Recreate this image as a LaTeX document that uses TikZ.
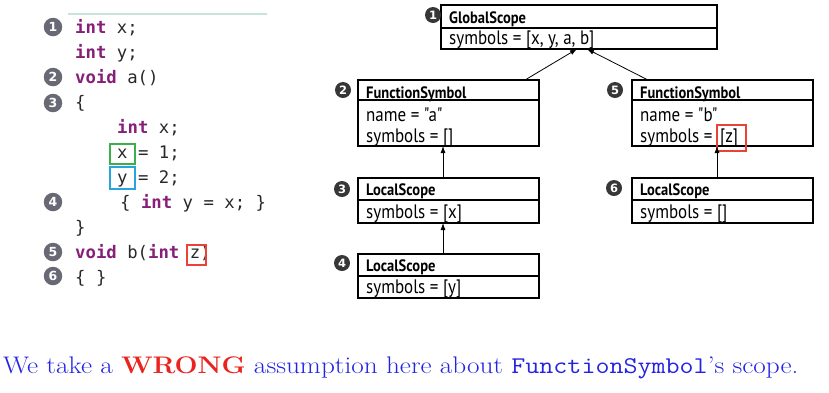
\documentclass[tikz,border=0pt]{standalone}
\usepackage{fontspec}
\usetikzlibrary{arrows.meta,calc}
\newfontfamily\codefont{DejaVu Sans Mono}
\newfontfamily\boxfont{PT Sans}[FakeStretch=0.87]
\newfontfamily\hdrfont{PT Sans}[FakeStretch=0.88]
\newfontfamily\numfont{DejaVu Sans}
\definecolor{kw}{RGB}{135,30,120}
\definecolor{codetxt}{RGB}{40,40,40}
\definecolor{cgray}{RGB}{105,105,118}
\definecolor{dgray}{RGB}{55,55,55}
\definecolor{tealline}{RGB}{200,226,220}
\definecolor{gbox}{RGB}{60,175,75}
\definecolor{bbox}{RGB}{40,165,225}
\definecolor{rbox}{RGB}{235,65,55}
\definecolor{txtblue}{RGB}{35,35,225}
\definecolor{txtred}{RGB}{235,35,30}
\newcommand\kwfmt[1]{\textcolor{kw}{\bfseries #1}}
\begin{document}
\begin{tikzpicture}[x=1pt,y=-1pt,
  code/.style={anchor=base west, inner sep=0, font=\codefont\fontsize{17.3}{20}\selectfont, text=codetxt},
  cnum/.style={circle, fill=cgray, text=white, minimum size=18.5pt, inner sep=0, font=\numfont\bfseries\fontsize{12.5}{12.5}\selectfont},
  dnum/.style={circle, fill=dgray, text=white, minimum size=16pt, inner sep=0, font=\numfont\bfseries\fontsize{11.5}{11.5}\selectfont},
  umlbox/.style={draw, line width=1.5pt, anchor=north west, inner sep=0, outer sep=0},
  divline/.style={line width=1.5pt},
  hdr/.style={anchor=base west, inner sep=0, font=\hdrfont\bfseries\fontsize{16.5}{18}\selectfont},
  fld/.style={anchor=base west, inner sep=0, font=\boxfont\fontsize{19.5}{22}\selectfont},
  arr/.style={-{Latex[length=7pt,width=5pt]}, line width=0.8pt},
  markbox/.style={draw, line width=1.3pt, inner sep=0, fill=none}
]
\useasboundingbox (0,0) rectangle (829,392);

% ---------- code listing ----------
\draw[tealline, line width=1.5pt] (68,14) -- (267,14);
\node[cnum] (c1) at (53,27) {1};
\node[cnum] (c2) at (53,77) {2};
\node[cnum] (c3) at (53,103) {3};
\node[cnum] (c4) at (53,202) {4};
\node[cnum] (c5) at (53,252) {5};
\node[cnum] (c6) at (53,276) {6};

\node[code] (k1) at (75,33) {\kwfmt{int} x;};
\node[code] (k2) at (75,58) {\kwfmt{int} y;};
\node[code] (k3) at (75,83) {\kwfmt{void} a()};
\node[code] (k4) at (75,108) {\{};
\node[code] (k5) at (117,133) {\kwfmt{int} x;};
\node[code] (k6) at (117,158) {x = 1;};
\node[code] (k7) at (117,183) {y = 2;};
\node[code] (k8) at (120,208) {\{ \kwfmt{int} y = x; \}};
\node[code] (k9) at (75,233) {\}};
\node[code] (k10) at (75,258) {\kwfmt{void} b(\kwfmt{int} z)};
\node[code] (k11) at (75,283) {\{ \}};

\node[markbox, draw=gbox, minimum width=25pt, minimum height=20pt] (bx) at (122.5,154) {};
\node[markbox, draw=bbox, minimum width=25pt, minimum height=22pt] (by) at (122.5,178) {};
\node[markbox, draw=rbox, minimum width=19pt, minimum height=20pt] (bz) at (196.5,255) {};

% ---------- scope diagram ----------
% GlobalScope
\node[umlbox, minimum width=276pt, minimum height=44pt] (gs) at (441,5) {};
\draw[divline] ([yshift=-23pt]gs.north west) -- ([yshift=-23pt]gs.north east);
\node[hdr] (gsh) at ([shift={(8pt,-18.5pt)}]gs.north west) {GlobalScope};
\node[fld] (gsf) at ([shift={(8pt,-39.5pt)}]gs.north west) {symbols = [x, y, a, b]};

% FunctionSymbol a
\node[umlbox, minimum width=181pt, minimum height=66pt] (fa) at (358,80) {};
\draw[divline] ([yshift=-20pt]fa.north west) -- ([yshift=-20pt]fa.north east);
\node[hdr] (fah) at ([shift={(8pt,-18pt)}]fa.north west) {FunctionSymbol};
\node[fld] (fan) at ([shift={(8pt,-41.5pt)}]fa.north west) {name = "a"};
\node[fld] (fas) at ([shift={(8pt,-62.5pt)}]fa.north west) {symbols = []};

% FunctionSymbol b
\node[umlbox, minimum width=181pt, minimum height=66pt] (fb) at (632,80) {};
\draw[divline] ([yshift=-20pt]fb.north west) -- ([yshift=-20pt]fb.north east);
\node[hdr] (fbh) at ([shift={(8pt,-18pt)}]fb.north west) {FunctionSymbol};
\node[fld] (fbn) at ([shift={(8pt,-41.5pt)}]fb.north west) {name = "b"};
\node[fld] (fbs) at ([shift={(8pt,-62.5pt)}]fb.north west) {symbols =};
\node[fld] (fbz) at ([shift={(88pt,-62.5pt)}]fb.north west) {[z]};
\node[markbox, draw=rbox, minimum width=29pt, minimum height=26pt] (zb) at (731.5,138) {};

% LocalScope 3
\node[umlbox, minimum width=181pt, minimum height=45pt] (l3) at (358,178) {};
\draw[divline] ([yshift=-22pt]l3.north west) -- ([yshift=-22pt]l3.north east);
\node[hdr] (l3h) at ([shift={(8pt,-17.5pt)}]l3.north west) {LocalScope};
\node[fld] (l3s) at ([shift={(8pt,-40pt)}]l3.north west) {symbols = [x]};

% LocalScope 4
\node[umlbox, minimum width=181pt, minimum height=44pt] (l4) at (358,254) {};
\draw[divline] ([yshift=-22pt]l4.north west) -- ([yshift=-22pt]l4.north east);
\node[hdr] (l4h) at ([shift={(8pt,-17.5pt)}]l4.north west) {LocalScope};
\node[fld] (l4s) at ([shift={(8pt,-39.5pt)}]l4.north west) {symbols = [y]};

% LocalScope 6
\node[umlbox, minimum width=181pt, minimum height=45pt] (l6) at (632,178) {};
\draw[divline] ([yshift=-22pt]l6.north west) -- ([yshift=-22pt]l6.north east);
\node[hdr] (l6h) at ([shift={(8pt,-17.5pt)}]l6.north west) {LocalScope};
\node[fld] (l6s) at ([shift={(8pt,-40pt)}]l6.north west) {symbols = []};

% numbers
\node[dnum] (d1) at (433,15) {1};
\node[dnum] (d2) at (343,90) {2};
\node[dnum] (d3) at (342,189) {3};
\node[dnum] (d4) at (342,263) {4};
\node[dnum] (d5) at (615,90) {5};
\node[dnum] (d6) at (614,188) {6};

% arrows
\draw[arr] ([xshift=-14pt]fa.north east) -- ([xshift=-2pt]gs.south);
\draw[arr] ([xshift=16pt]fb.north west) -- ([xshift=8pt]gs.south);
\draw[arr] ([xshift=-5.5pt]l3.north) -- ([xshift=-5.5pt]fa.south);
\draw[arr] ([xshift=-5.5pt]l4.north) -- ([xshift=-5.5pt]l3.south);
\draw[arr] ([xshift=-5.5pt]l6.north) -- ([xshift=-5.5pt]fb.south);

% caption
\node[anchor=base west, inner sep=0, text=txtblue, font=\fontsize{24}{28}\selectfont] (cap) at (3,373)
  {\scalebox{1.135}[1]{We take a \textcolor{txtred}{\bfseries WRONG} assumption here about \texttt{FunctionSymbol}'s scope.}};
\end{tikzpicture}
\end{document}
